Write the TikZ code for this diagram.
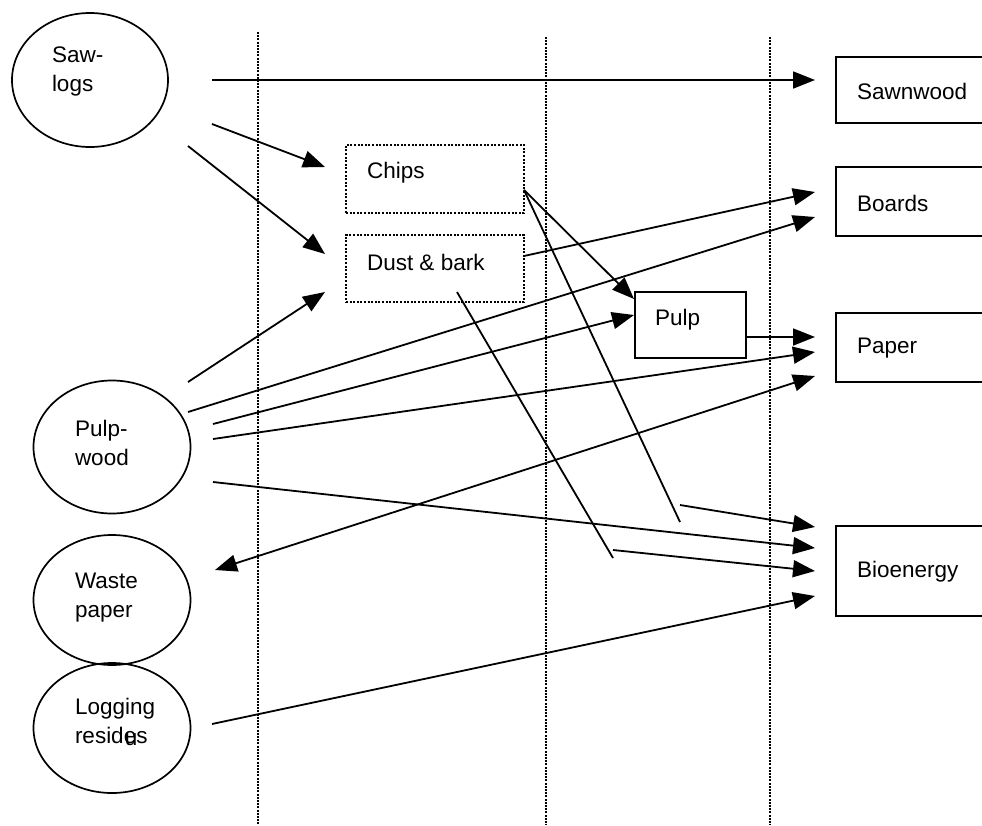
\documentclass[tikz,border=0pt]{standalone}
\usepackage{fontspec}
\setmainfont{Liberation Sans}
\usetikzlibrary{arrows.meta,shapes.geometric}
\begin{document}
\begin{tikzpicture}[x=1pt,y=-1pt,
  every node/.style={inner sep=0pt, outer sep=0pt},
  src/.style={draw, line width=1.7pt, ellipse},
  lbl/.style={font=\fontsize{22.5}{29}\selectfont, align=left, anchor=west},
  outbox/.style={draw, line width=1.7pt, rectangle},
  midbox/.style={draw, line width=1.4pt, dash pattern=on 2pt off 1.6pt, rectangle},
  flow/.style={line width=1.8pt, -{Triangle[length=22pt,width=17pt]}},
  both/.style={line width=1.8pt, {Triangle[length=22pt,width=17pt]}-{Triangle[length=22pt,width=17pt]}},
  plain/.style={line width=1.8pt},
  guide/.style={line width=1.4pt, dash pattern=on 2pt off 1.2pt}
]
\useasboundingbox (0,0) rectangle (982,825);
\clip (0,0) rectangle (982,825);
\fill[white] (0,0) rectangle (982,825);

% guide lines
\coordinate (g1t) at (258,32); \coordinate (g1b) at (258,825);
\coordinate (g2t) at (546,37); \coordinate (g2b) at (546,825);
\coordinate (g3t) at (770,37); \coordinate (g3b) at (770,825);
\draw[guide] (g1t) -- (g1b);
\draw[guide] (g2t) -- (g2b);
\draw[guide] (g3t) -- (g3b);

% sources
\node[src, minimum width=156, minimum height=134] (sawlogs) at (90,80) {};
\node[lbl] (sawlogsT) at (52,71) {Saw-\\logs};
\node[src, minimum width=157, minimum height=133] (pulpwood) at (112,447) {};
\node[lbl] (pulpwoodT) at (75,443) {Pulp-\\wood};
\node[src, minimum width=157, minimum height=130] (waste) at (112,600) {};
\node[lbl] (wasteT) at (75,598) {Waste\\paper};
\node[src, minimum width=157, minimum height=130] (logging) at (112,728) {};
\node[lbl] (loggingT) at (75,722) {Logging\\resid\rlap{\kern1pt\raisebox{-2pt}{u}}es};

% intermediate
\node[midbox, minimum width=178, minimum height=68] (chips) at (435,179) {};
\node[lbl] (chipsT) at (367,173) {Chips};
\node[midbox, minimum width=178, minimum height=67] (dust) at (435,268.5) {};
\node[lbl] (dustT) at (367,262) {Dust \& bark};
\node[outbox, minimum width=111, minimum height=66] (pulp) at (690.5,325) {};
\node[lbl] (pulpT) at (655,320) {Pulp};

% products
\node[outbox, minimum width=180, minimum height=66] (sawnwood) at (926,90) {};
\node[lbl] (sawnwoodT) at (857,91) {Sawnwood};
\node[outbox, minimum width=180, minimum height=69] (boards) at (926,201.5) {};
\node[lbl] (boardsT) at (857,203) {Boards};
\node[outbox, minimum width=180, minimum height=69] (paper) at (926,347.5) {};
\node[lbl] (paperT) at (857,348) {Paper};
\node[outbox, minimum width=180, minimum height=90] (bio) at (926,571) {};
\node[lbl] (bioT) at (857,572) {Bioenergy};

% connector end points
\coordinate (s1) at (212,80);   \coordinate (t1) at (815,80);
\coordinate (s2) at (212,124);  \coordinate (t2) at (325,167);
\coordinate (s3) at (188,146);  \coordinate (t3) at (325,254);
\coordinate (p1) at (188,382);  \coordinate (tp1) at (325,292);
\coordinate (p2) at (188,412);  \coordinate (tp2) at (815,217);
\coordinate (p3) at (213,424);  \coordinate (tp3) at (634,315);
\coordinate (p4) at (213,439);  \coordinate (tp4) at (815,352);
\coordinate (p5) at (213,482);  \coordinate (tp5) at (815,548);
\coordinate (d1) at (524,256);  \coordinate (td1) at (815,192);
\coordinate (c1) at (524,190);  \coordinate (tc1) at (634,299);
\coordinate (cEnd) at (680,522); \coordinate (cStart) at (680,505); \coordinate (tc2) at (815,527);
\coordinate (d2) at (457,292);  \coordinate (dEnd) at (613,558);
\coordinate (dStart) at (613,550); \coordinate (td2) at (815,571);
\coordinate (pu) at (746,337);  \coordinate (tpu) at (815,337);
\coordinate (w1) at (215,570);  \coordinate (tw1) at (815,376);
\coordinate (l1) at (212,724);  \coordinate (tl1) at (815,596);

% connectors
\draw[flow] (s1) -- (t1);
\draw[flow] (s2) -- (t2);
\draw[flow] (s3) -- (t3);
\draw[flow] (p1) -- (tp1);
\draw[flow] (p2) -- (tp2);
\draw[flow] (p3) -- (tp3);
\draw[flow] (p4) -- (tp4);
\draw[flow] (p5) -- (tp5);
\draw[flow] (d1) -- (td1);
\draw[flow] (c1) -- (tc1);
\draw[plain] (c1) -- (cEnd);
\draw[flow] (cStart) -- (tc2);
\draw[plain] (d2) -- (dEnd);
\draw[flow] (dStart) -- (td2);
\draw[flow] (pu) -- (tpu);
\draw[both] (w1) -- (tw1);
\draw[flow] (l1) -- (tl1);
\end{tikzpicture}
\end{document}
